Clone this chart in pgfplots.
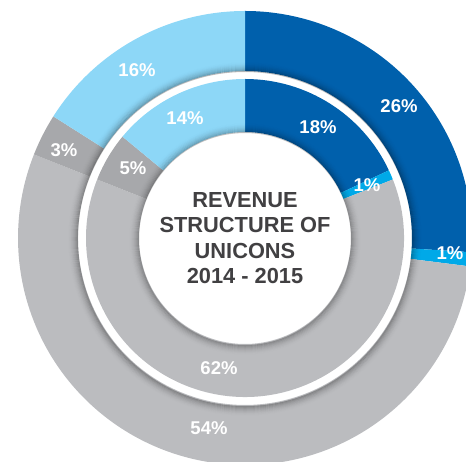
\documentclass[border=0pt]{standalone}
\usepackage{fontspec}
\setmainfont{Liberation Sans}
\usepackage{pgfplots}
\usepackage{pgfplotstable}
\pgfplotsset{compat=1.18}
\definecolor{cDark}{HTML}{0060AC}
\definecolor{cBright}{HTML}{00A9E8}
\definecolor{cGray}{HTML}{BBBCBF}
\definecolor{cDGray}{HTML}{A7A8AB}
\definecolor{cLight}{HTML}{8DD7F7}
\definecolor{cText}{HTML}{414042}

% outer ring (2015)
\pgfplotstableread{
value color
26 cDark
1  cBright
54 cGray
3  cDGray
16 cLight
}\outerdata
% inner ring (2014)
\pgfplotstableread{
value color
18 cDark
1  cBright
62 cGray
5  cDGray
14 cLight
}\innerdata
% labels
\pgfplotstableread{
x y label
-108 168 16\%
154 132 26\%
-60 120 14\%
73 111 18\%
-181 88 3\%
-112 70 5\%
122 53 1\%
205 -15 1\%
-26 -130 62\%
-36 -190 54\%
}\labeldata

\newcommand\drawring[3]{%
  \def\cum{0}%
  \pgfplotsforeachungrouped \i in {0,...,4}{%
    \pgfplotstablegetelem{\i}{value}\of{#1}\let\val\pgfplotsretval
    \pgfplotstablegetelem{\i}{color}\of{#1}\let\col\pgfplotsretval
    \pgfmathsetmacro\angA{90-3.6*\cum}%
    \pgfmathsetmacro\angB{90-3.6*(\cum+\val)}%
    \pgfmathsetmacro\cum{\cum+\val}%
    \pgfmathsetmacro\pAx{#3*cos(\angA)}%
    \pgfmathsetmacro\pAy{#3*sin(\angA)}%
    \pgfmathsetmacro\pBx{#2*cos(\angB)}%
    \pgfmathsetmacro\pBy{#2*sin(\angB)}%
    \edef\temp{\noexpand\fill[\col] (axis cs:\pAx,\pAy) arc[start angle=\angA, end angle=\angB, radius=#3pt] -- (axis cs:\pBx,\pBy) arc[start angle=\angB, end angle=\angA, radius=#2pt] -- cycle;}%
    \temp
  }%
}

\newcommand\drawshadow[2]{% radius, max opacity
  \pgfplotsforeachungrouped \k in {0,...,9}{%
    \pgfmathsetmacro\op{#2*(1-\k/10)^2}%
    \pgfmathsetmacro\rr{#1+0.5+\k}%
    \edef\temp{\noexpand\draw[black, line width=1.05pt, opacity=\op] (axis cs:0,-1) circle[radius=\rr pt];}%
    \temp
  }%
}

\begin{document}
\begin{tikzpicture}
\begin{axis}[
  name=ax,
  x=1pt, y=1pt,
  xmin=-245, xmax=221, ymin=-224, ymax=238,
  hide axis,
  clip=true,
  clip bounding box=upper bound,
]
\drawring{\outerdata}{167}{227}
\drawring{\innerdata}{106}{159}
% soft shadows along the inner edges of the rings
\drawshadow{167}{0.26}
\drawshadow{106}{0.24}
\addplot[draw=none, mark=none, nodes near coords, point meta=explicit symbolic,
  every node near coord/.append style={anchor=center, text=white, inner sep=0pt,
  font=\fontsize{18.5}{20}\selectfont\bfseries}]
  table[x=x, y=y, meta=label] {\labeldata};
\node[align=center, text=cText, font=\fontsize{21.8}{25.5}\selectfont\bfseries] at (axis cs:0,0)
  {REVENUE\\STRUCTURE OF\\UNICONS\\2014 - 2015};
\end{axis}
\pgfresetboundingbox
\path (ax.south west) rectangle (ax.north east);
\end{tikzpicture}
\end{document}
